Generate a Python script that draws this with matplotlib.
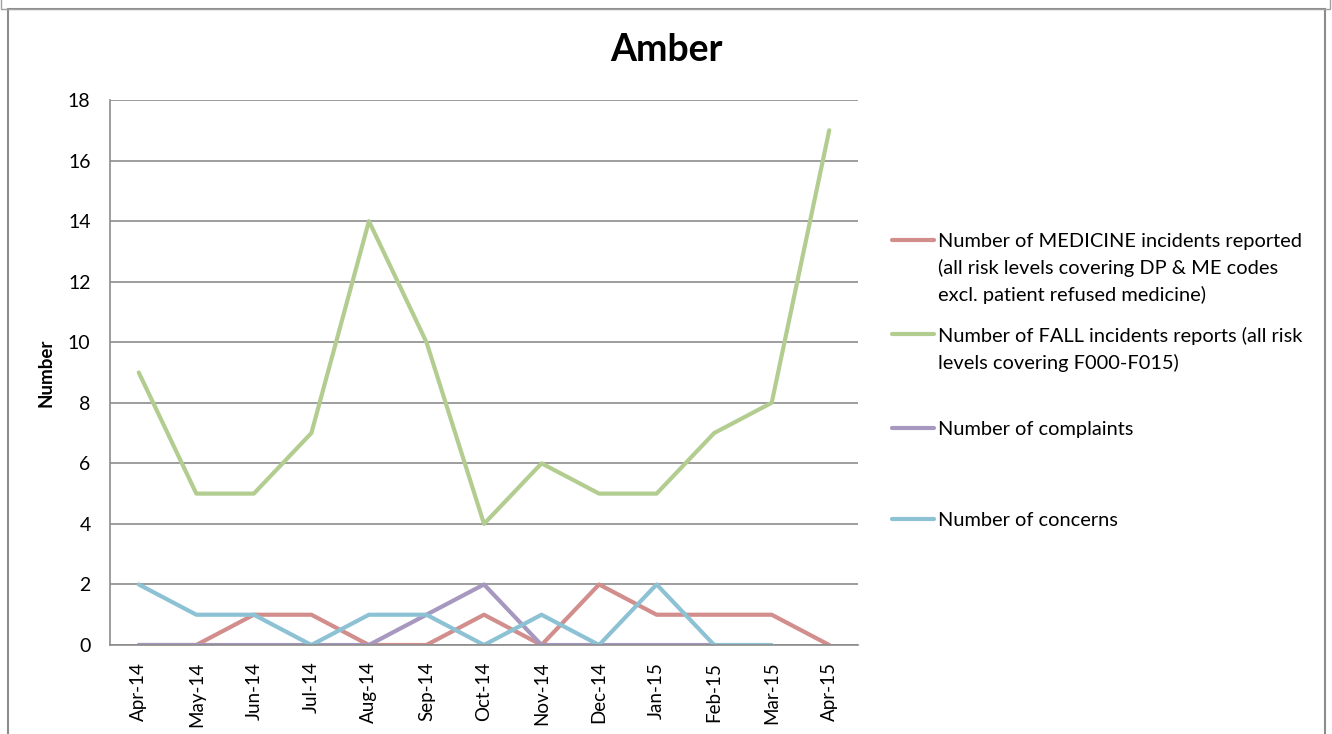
import matplotlib
matplotlib.use("Agg")
import matplotlib.pyplot as plt
from matplotlib.patches import Rectangle

plt.rcParams["font.family"] = ["Lato", "DejaVu Sans"]

# ── data ──────────────────────────────────────────────────────────────────────
months = ["Apr-14", "May-14", "Jun-14", "Jul-14", "Aug-14", "Sep-14", "Oct-14",
          "Nov-14", "Dec-14", "Jan-15", "Feb-15", "Mar-15", "Apr-15"]
medicine = [0, 0, 1, 1, 0, 0, 1, 0, 2, 1, 1, 1, 0]
falls = [9, 5, 5, 7, 14, 10, 4, 6, 5, 5, 7, 8, 17]
complaints = [0, 0, 0, 0, 0, 1, 2, 0, 0, 0, 0]          # up to Feb-15
concerns = [2, 1, 1, 0, 1, 1, 0, 1, 0, 2, 0, 0]         # up to Mar-15

# labels padded to three lines so entries are evenly spaced, like Excel
labels = [
    "Number of MEDICINE incidents reported\n(all risk levels covering DP & ME codes\nexcl. patient refused medicine)",
    "Number of FALL incidents reports (all risk\nlevels covering F000-F015)\n ",
    "Number of complaints\n \n ",
    "Number of concerns",
]
colors = ["#d28e8c", "#b3cd90", "#a698bf", "#8cc2d4"]

# ── figure ────────────────────────────────────────────────────────────────────
fig = plt.figure(figsize=(13.32, 7.34), dpi=100)
fig.patch.set_facecolor("white")
ax = fig.add_axes([110 / 1332, 89 / 734, 748 / 1332, 545 / 734])

# chart frame (bottom cut off) and the edge of the chart above it
fig.add_artist(Rectangle((8 / 1332, -0.05), 1317 / 1332, 1.05 - 9 / 734,
                         transform=fig.transFigure, fill=False,
                         edgecolor="#8c8c8c", lw=1.5))
fig.add_artist(Rectangle((1 / 1332, 1 - 9 / 734), 1329 / 1332, 0.2,
                         transform=fig.transFigure, fill=False,
                         edgecolor="#a0a0a0", lw=1.0))

series = [medicine, falls, complaints, concerns]
lines = []
for vals, c, lab in zip(series, colors, labels):
    ln, = ax.plot(range(len(vals)), vals, color=c, lw=3.0,
                  solid_capstyle="round", solid_joinstyle="round", label=lab)
    lines.append(ln)

ax.set_xlim(-0.5, len(months) - 0.5)
ax.set_ylim(0, 18)
ax.set_yticks(range(0, 19, 2))
ax.set_xticks(range(len(months)))
ax.set_xticklabels(months, rotation=90, fontsize=13.5)
ax.tick_params(axis="y", labelsize=14, length=0, pad=14)
ax.tick_params(axis="x", length=0, pad=12)
ax.grid(axis="y", color="#8c8c8c", lw=1.2)
ax.set_axisbelow(True)
for s in ["top", "right"]:
    ax.spines[s].set_visible(False)
for s in ["left", "bottom"]:
    ax.spines[s].set_color("#8c8c8c")
    ax.spines[s].set_linewidth(1.2)

ax.set_ylabel("Number", fontsize=13.5, fontweight="bold", labelpad=10)
fig.text(666 / 1332, 1 - 50 / 734, "Amber", ha="center", va="center",
         fontsize=27, fontweight="bold")

leg = fig.legend(handles=lines, loc="upper left",
                 bbox_to_anchor=(882 / 1332, 1 - 223 / 734),
                 frameon=False, fontsize=14.4, borderpad=0,
                 handlelength=2.1, handletextpad=0.2, labelspacing=1.15)
# align each handle with the first line of its label (Excel style)
for col in leg._legend_handle_box.get_children():
    for row in col.get_children():
        row.align = "top"
for t in leg.get_texts():
    t.set_linespacing(1.6)

fig.savefig("out.png", dpi=100, facecolor="white")
